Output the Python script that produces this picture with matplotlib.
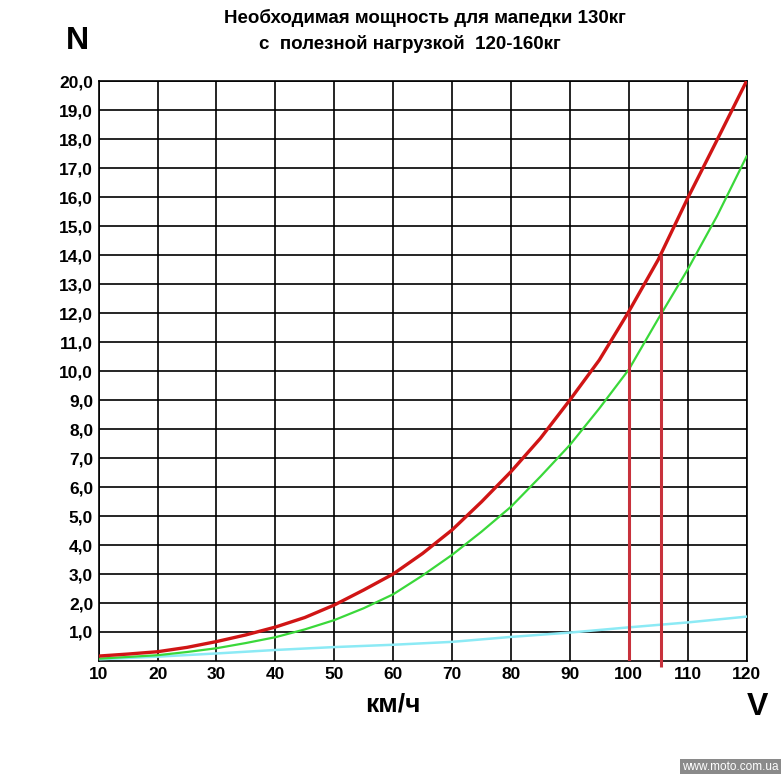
import matplotlib
matplotlib.use("Agg")
import matplotlib.pyplot as plt

speed = [10, 15, 20, 25, 30, 35, 40, 45, 50, 55, 60, 65, 70, 75, 80, 85, 90, 95, 100, 105, 110, 115, 120]
power_red = [0.17, 0.24, 0.32, 0.47, 0.67, 0.9, 1.17, 1.5, 1.93, 2.45, 3.0, 3.71, 4.52, 5.49,
             6.53, 7.68, 9.0, 10.38, 12.05, 13.84, 15.96, 17.97, 20.0]
power_green = [0.08, 0.14, 0.2, 0.31, 0.44, 0.62, 0.82, 1.09, 1.41, 1.82, 2.3, 2.95, 3.66, 4.46,
               5.32, 6.36, 7.45, 8.71, 10.05, 11.8, 13.5, 15.35, 17.4]
speed_cyan = [10, 20, 30, 40, 50, 60, 70, 80, 90, 100, 110, 120]
power_cyan = [0.06, 0.15, 0.26, 0.38, 0.48, 0.56, 0.66, 0.83, 0.98, 1.16, 1.33, 1.53]
marker_x = [100, 105.5]
marker_y = [12.0, 14.0]
x_ticks = [10, 20, 30, 40, 50, 60, 70, 80, 90, 100, 110, 120]
y_ticks = list(range(1, 21))
y_labels = [f"{v},0" for v in y_ticks]

plt.rcParams['font.family'] = ['Liberation Sans', 'DejaVu Sans']

fig = plt.figure(figsize=(7.82, 7.74), dpi=100)
ax = fig.add_axes([0.1262, 0.146, 0.9547 - 0.1262, 0.8953 - 0.146])
ax.set_xlim(10, 120)
ax.set_ylim(0, 20)
ax.set_xticks(x_ticks)
ax.set_xticklabels([str(v) for v in x_ticks], fontsize=12.5, fontweight='bold')
ax.set_yticks(y_ticks)
ax.set_yticklabels(y_labels, fontsize=12.5, fontweight='bold')
ax.tick_params(length=0, pad=4)
ax.grid(True, color='black', linewidth=1.2)
for s in ax.spines.values():
    s.set_linewidth(1.2)
    s.set_color('black')

ax.plot(speed_cyan, power_cyan, color='#8ceaf5', linewidth=1.8, zorder=3)
ax.plot(speed, power_green, color='#3ad83a', linewidth=1.6, zorder=4, solid_joinstyle='round')
ax.plot(speed, power_red, color='#d01515', linewidth=2.4, zorder=5, solid_joinstyle='round')
ax.vlines(marker_x[0], 0, marker_y[0], color='#c8323c', linewidth=2.2, zorder=6)
ax.vlines(marker_x[1], -0.2, marker_y[1], color='#c8323c', linewidth=2.2, zorder=6, clip_on=False)

fig.text(425 / 782, 1 - 18 / 774, "Необходимая мощность для мапедки 130кг",
         ha='center', va='center', fontsize=13.5, fontweight='bold')
fig.text(410 / 782, 1 - 44 / 774, "с  полезной нагрузкой  120-160кг",
         ha='center', va='center', fontsize=13.5, fontweight='bold')
fig.text(77 / 782, 1 - 41 / 774, "N", ha='center', va='center', fontsize=23, fontweight='bold')
fig.text(393 / 782, 1 - 704 / 774, "км/ч", ha='center', va='center', fontsize=19, fontweight='bold')
fig.text(757 / 782, 1 - 707 / 774, "V", ha='center', va='center', fontsize=23, fontweight='bold')
fig.text(1 - 3 / 782, 1 - 767 / 774, "www.moto.com.ua", ha='right', va='center', fontsize=8.5,
         color='white', bbox=dict(boxstyle='square,pad=0.2', facecolor='#8a8a8a', edgecolor='none'))

fig.savefig("out.png", dpi=100)
